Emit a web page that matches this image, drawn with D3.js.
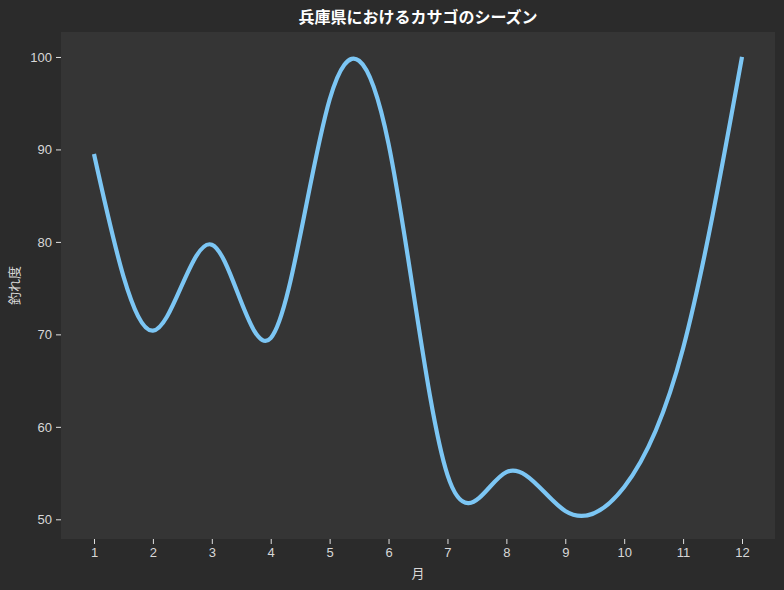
<!DOCTYPE html>
<html>
<head>
<meta charset="utf-8">
<script src="https://cdn.jsdelivr.net/npm/d3@7"></script>
<style>
  body { margin: 0; background: #2b2b2b; }
  svg { display: block; font-family: "Noto Sans CJK JP", "Noto Sans", sans-serif; }
  .axis path { display: none; }
  .axis line { stroke: #e0e0e0; }
  .axis text { fill: #d8d8d8; font-size: 13px; }
</style>
</head>
<body>
<div id="chart-area"></div>
<script>
// Data
let months = [1, 2, 3, 4, 5, 6, 7, 8, 9, 10, 11, 12];
let scores = [89.5, 70.4, 79.7, 69.6, 95.4, 90.6, 54.8, 55.1, 50.9, 53.5, 68.5, 100.0];
let xTicks = months;
let yTicks = [50, 60, 70, 80, 90, 100];

// SVG drawing area
let margin = { top: 32, right: 9, bottom: 51, left: 61 };
let width = 784 - margin.left - margin.right,
  height = 590 - margin.top - margin.bottom;

let root = d3
  .select('#chart-area')
  .append('svg')
  .attr('width', 784)
  .attr('height', 590);

root.append('rect')
  .attr('width', 784)
  .attr('height', 590)
  .attr('fill', '#2b2b2b');

let svg = root
  .append('g')
  .attr('transform', 'translate(' + margin.left + ',' + margin.top + ')');

svg.append('rect')
  .attr('width', width)
  .attr('height', height)
  .attr('fill', '#353535');

// Scales
let x = d3.scaleLinear().domain([0.44, 12.56]).range([0, width]);
let y = d3.scaleLinear().domain([47.87, 102.7]).range([height, 0]);

// Axis
svg.append('g')
  .attr('class', 'x-axis axis')
  .attr('transform', 'translate(0,' + height + ')')
  .call(d3.axisBottom(x).tickValues(xTicks).tickSize(5).tickPadding(4).tickFormat(d3.format('d')));

svg.append('g')
  .attr('class', 'y-axis axis')
  .call(d3.axisLeft(y).tickValues(yTicks).tickSize(5).tickPadding(4).tickFormat(d3.format('d')));

// Line
let line = d3.line()
  .x((d, i) => x(months[i]))
  .y(d => y(d))
  .curve(d3.curveNatural);

svg.append('path')
  .datum(scores)
  .attr('fill', 'none')
  .attr('stroke', '#7cc6f4')
  .attr('stroke-width', 4.2)
  .attr('d', line);

// Labels
root.append('text')
  .attr('x', margin.left + width / 2)
  .attr('y', 23)
  .attr('text-anchor', 'middle')
  .attr('fill', '#ffffff')
  .attr('font-size', '16px')
  .attr('font-weight', 'bold')
  .text('兵庫県におけるカサゴのシーズン');

root.append('text')
  .attr('x', margin.left + width / 2)
  .attr('y', 578)
  .attr('text-anchor', 'middle')
  .attr('fill', '#d8d8d8')
  .attr('font-size', '13px')
  .text('月');

root.append('text')
  .attr('transform', 'translate(19,' + (margin.top + height / 2) + ') rotate(-90)')
  .attr('text-anchor', 'middle')
  .attr('fill', '#d8d8d8')
  .attr('font-size', '13px')
  .text('釣れ度');
</script>
</body>
</html>
